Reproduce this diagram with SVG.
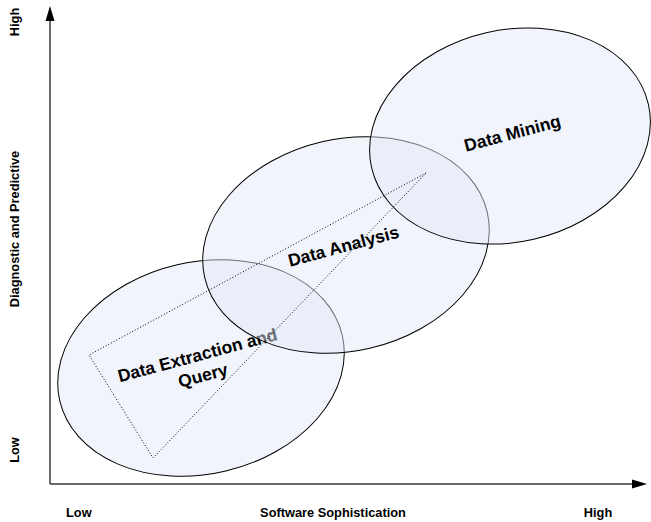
<svg xmlns="http://www.w3.org/2000/svg" width="651" height="522" viewBox="0 0 651 522">
  <style>
    .area { fill: #e2e9f6; fill-opacity: 0.48; stroke: #000; stroke-width: 1; }
    .label { font-family: "Liberation Sans", Arial, sans-serif; font-weight: bold; font-size: 17.5px; fill: #000; text-anchor: middle; }
    .axis-label { font-family: "Liberation Sans", Arial, sans-serif; font-weight: bold; font-size: 12.8px; fill: #000; }
    .axis { stroke: #3a3a3a; stroke-width: 1.5; fill: none; }
    .trend { fill: none; stroke: #000; stroke-width: 1; stroke-dasharray: 1 2; }
  </style>

  <!-- axes -->
  <g id="connectors">
    <path class="axis" d="M50,484 L50,20"/>
    <path d="M45.5,21 L50,6 L54.5,21 Z" fill="#000"/>
    <path class="axis" d="M50,484 L633,484"/>
    <path d="M632,479.5 L647,484 L632,488.5 Z" fill="#000"/>
  </g>

  <!-- axis labels -->
  <g id="y-axis-labels" class="axis-label">
    <text transform="translate(19,22) rotate(-90)" text-anchor="middle">High</text>
    <text transform="translate(19,229) rotate(-90)" text-anchor="middle">Diagnostic and Predictive</text>
    <text transform="translate(19,450) rotate(-90)" text-anchor="middle">Low</text>
  </g>
  <g id="x-axis-labels" class="axis-label">
    <text x="66" y="517">Low</text>
    <text x="333" y="517" text-anchor="middle">Software Sophistication</text>
    <text x="598" y="517" text-anchor="middle">High</text>
  </g>

  <!-- capability regions -->
  <g id="data-extraction">
    <ellipse class="area" cx="201" cy="368" rx="145" ry="106" transform="rotate(-13 201 368)"/>
    <g class="label" transform="translate(199,361) rotate(-15)">
      <text x="0" y="0">Data Extraction and</text>
      <text x="0" y="21">Query</text>
    </g>
  </g>
  <g id="data-analysis">
    <ellipse class="area" cx="346" cy="245" rx="145" ry="106" transform="rotate(-13 346 245)"/>
    <text class="label" transform="translate(345,252) rotate(-15)">Data Analysis</text>
  </g>
  <g id="data-mining">
    <ellipse class="area" cx="510" cy="136" rx="142" ry="106" transform="rotate(-13 510 136)"/>
    <text class="label" transform="translate(514,139) rotate(-15)">Data Mining</text>
  </g>

  <!-- widening trend wedge -->
  <g id="trend">
    <path class="trend" d="M426,173 L89,355 L153,458 Z"/>
  </g>
</svg>
